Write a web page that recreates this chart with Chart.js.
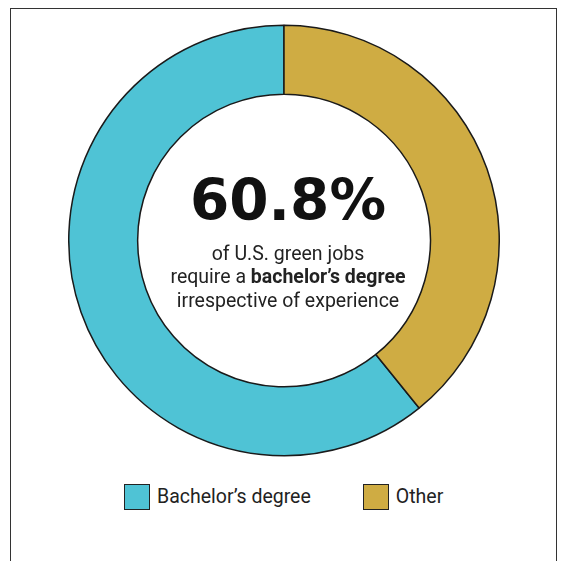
<!DOCTYPE html>
<html>
<head>
<meta charset="utf-8">
<script src="https://cdn.jsdelivr.net/npm/chart.js@4"></script>
<style>
    body {
        margin: 0;
        background: #fff;
        font-family: Roboto, sans-serif;
    }
    .frame {
        position: absolute;
        left: 10px;
        top: 8px;
        width: 545px;
        height: 560px;
        border: 1px solid #333;
        border-bottom: none;
    }
    .chartBox {
        position: absolute;
        left: 68px;
        top: 24px;
        width: 432px;
        height: 433px;
    }
    .legend {
        position: absolute;
        left: 124px;
        top: 484px;
        display: flex;
        gap: 52px;
    }
    .legend .item {
        display: flex;
        align-items: center;
    }
    .legend .box {
        width: 24px;
        height: 24px;
        border: 1px solid #222;
        margin-right: 7px;
    }
    .legend .text {
        font-size: 19.5px;
        color: #222;
        line-height: 26px;
    }
</style>
</head>
<body>
<div class="frame"></div>
<div class="chartBox"><canvas id="degreeChart"></canvas></div>
<div class="legend" id="legend"></div>

<script>
const labels = ["Bachelor’s degree", "Other"];
const shares = [60.8, 39.2];
const colors = ["#4fc3d5", "#cfac43"];

const ctx = document.getElementById("degreeChart");
const legendBox = document.querySelector("#legend");

// the "Other" slice sits on the right side, so start the first slice after it
const total = shares.reduce((a, b) => a + b, 0);
const startAngle = (shares[1] / total) * 360;

// big number + caption in the hole
const centerText = {
    id: "centerText",
    afterDraw(chart) {
        const c = chart.ctx;
        const meta = chart.getDatasetMeta(0).data[0];
        const cx = meta.x + 4;
        const cy = meta.y;
        const bodyFont = "19.5px Roboto";
        const boldFont = "bold 19.5px Roboto";

        c.save();
        c.fillStyle = "#111";
        c.textBaseline = "alphabetic";
        c.textAlign = "left";

        const big = shares[0].toFixed(1) + "%";
        c.font = "bold 57px 'DejaVu Sans'";
        const bigW = c.measureText(big).width;
        const sx = 196 / bigW;
        c.save();
        c.translate(cx - 98, cy - 20.5);
        c.scale(sx, 1);
        c.fillText(big, 0, 0);
        c.restore();

        c.fillStyle = "#222";
        c.textAlign = "center";
        c.font = bodyFont;
        c.fillText("of U.S. green jobs", cx, cy + 19);

        const partA = "require a ";
        const partB = "bachelor’s degree";
        c.textAlign = "left";
        c.font = bodyFont;
        const wA = c.measureText(partA).width;
        c.font = boldFont;
        const wB = c.measureText(partB).width;
        let x = cx - (wA + wB) / 2;
        c.font = bodyFont;
        c.fillText(partA, x, cy + 42.5);
        c.font = boldFont;
        c.fillText(partB, x + wA, cy + 42.5);

        c.textAlign = "center";
        c.font = bodyFont;
        c.fillText("irrespective of experience", cx, cy + 66);
        c.restore();
    },
};

new Chart(ctx, {
    type: "doughnut",
    data: {
        labels: labels,
        datasets: [
            {
                data: shares,
                backgroundColor: colors,
                borderColor: "#1a1a1a",
                borderWidth: 1.5,
            },
        ],
    },
    options: {
        responsive: true,
        maintainAspectRatio: false,
        animation: false,
        cutout: "68%",
        rotation: startAngle,
        layout: { padding: 0 },
        events: [],
        plugins: {
            legend: { display: false },
            tooltip: { enabled: false },
        },
    },
    plugins: [centerText],
});

for (let i = 0; i < labels.length; i++) {
    const item = document.createElement("div");
    item.className = "item";
    item.innerHTML =
        '<span class="box" style="background:' + colors[i] + '"></span>' +
        '<span class="text">' + labels[i] + "</span>";
    legendBox.appendChild(item);
}
</script>
</body>
</html>
